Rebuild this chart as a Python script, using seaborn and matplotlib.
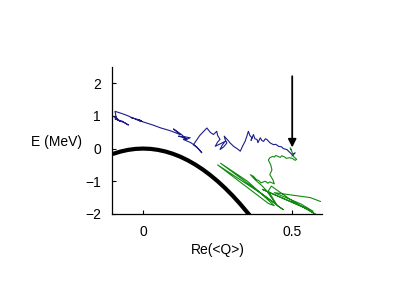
import numpy as np
import pandas as pd
import matplotlib
matplotlib.use('Agg')
import matplotlib.pyplot as plt
import seaborn as sns

# Curva de referencia (parábola negra)
curva_x = [-0.10, -0.075, -0.05, -0.025, 0.0, 0.025, 0.05, 0.075, 0.10, 0.125, 0.15, 0.175,
           0.20, 0.225, 0.25, 0.275, 0.30, 0.325, 0.35, 0.36]
curva_y = [-0.16, -0.09, -0.04, -0.01, 0.0, -0.01, -0.04, -0.09, -0.16, -0.25, -0.36, -0.49,
           -0.64, -0.81, -1.00, -1.21, -1.44, -1.69, -1.96, -2.07]

# Trayectoria azul
azul_x = [-0.100, -0.080, -0.070, -0.049, -0.060, -0.094, -0.085, -0.077, -0.090, -0.094,
          -0.070, -0.050, -0.033, -0.040, -0.010, -0.027, -0.004, -0.015, 0.030, 0.060,
          0.090, 0.096, 0.110, 0.124, 0.102, 0.115, 0.130, 0.147, 0.130, 0.119,
          0.140, 0.158, 0.150, 0.135, 0.160, 0.180, 0.197, 0.185, 0.169, 0.190,
          0.214, 0.225, 0.236, 0.247, 0.250, 0.258, 0.250, 0.242, 0.260, 0.275,
          0.265, 0.258, 0.270, 0.281, 0.275, 0.272, 0.285, 0.292, 0.300, 0.303,
          0.315, 0.326, 0.335, 0.342, 0.348, 0.353, 0.358, 0.365, 0.362, 0.370,
          0.375, 0.382, 0.385, 0.393, 0.398, 0.404, 0.410, 0.415, 0.425, 0.437,
          0.445, 0.454, 0.465, 0.470, 0.482, 0.490, 0.499, 0.510, 0.499]
azul_y = [0.99, 0.86, 0.84, 0.72, 0.78, 0.91, 0.88, 0.83, 0.95, 1.14,
          1.07, 1.00, 0.93, 0.95, 0.87, 0.90, 0.84, 0.86, 0.73, 0.63,
          0.55, 0.53, 0.48, 0.43, 0.60, 0.52, 0.42, 0.28, 0.35, 0.38,
          0.36, 0.33, 0.30, 0.28, 0.18, 0.05, -0.13, 0.00, 0.12, 0.40,
          0.63, 0.50, 0.43, 0.53, 0.40, 0.28, 0.20, 0.07, 0.15, 0.22,
          0.10, -0.03, 0.05, 0.17, 0.28, 0.38, 0.25, 0.17, 0.10, 0.07,
          0.00, -0.08, 0.10, 0.22, 0.38, 0.53, 0.40, 0.33, 0.25, 0.43,
          0.30, 0.28, 0.18, 0.33, 0.25, 0.22, 0.30, 0.28, 0.18, 0.12,
          0.13, 0.07, 0.05, 0.00, -0.03, -0.10, -0.18, -0.13, -0.23]

# Trayectoria verde
verde_x = [0.498, 0.493, 0.500, 0.505, 0.515, 0.510, 0.500, 0.490, 0.480, 0.475, 0.465, 0.460,
           0.455, 0.445, 0.440, 0.435, 0.425, 0.420, 0.428, 0.432, 0.425, 0.435, 0.440, 0.425,
           0.418, 0.410, 0.395, 0.388, 0.380, 0.370, 0.360, 0.375, 0.400, 0.415, 0.430, 0.445,
           0.430, 0.260, 0.350, 0.440, 0.420, 0.250, 0.400, 0.470, 0.450, 0.420, 0.430, 0.500,
           0.585, 0.550, 0.400, 0.570, 0.530, 0.440, 0.560, 0.595]
verde_y = [-0.05, 0.02, -0.12, -0.25, -0.33, -0.36, -0.30, -0.28, -0.30, -0.26, -0.22, -0.27,
           -0.25, -0.21, -0.26, -0.24, -0.28, -0.35, -0.50, -0.65, -0.80, -0.95, -1.08, -1.02,
           -1.06, -1.00, -1.05, -0.98, -0.95, -0.85, -0.80, -0.95, -1.15, -1.30, -1.50, -1.70,
           -1.60, -0.45, -1.00, -1.75, -1.68, -0.50, -1.40, -1.87, -1.75, -1.30, -1.15, -1.60,
           -2.05, -1.85, -1.25, -1.92, -1.70, -1.35, -1.50, -1.62]

# Flecha
flecha_x = 0.5
flecha_y0, flecha_y1 = 2.3, -0.05

sns.set_style('ticks')
plt.rcParams['font.family'] = ['Liberation Sans', 'DejaVu Sans']
plt.rcParams['text.color'] = 'black'
plt.rcParams['xtick.color'] = 'black'
plt.rcParams['ytick.color'] = 'black'

fig = plt.figure(figsize=(4.15, 2.91), dpi=100)
ax = fig.add_axes([0.27, 0.265, 0.506, 0.505])

df_azul = pd.DataFrame({'x': azul_x, 'y': azul_y})
df_verde = pd.DataFrame({'x': verde_x, 'y': verde_y})
df_curva = pd.DataFrame({'x': curva_x, 'y': curva_y})

sns.lineplot(data=df_azul, x='x', y='y', sort=False, estimator=None, color='#1c1c8c', lw=0.8, ax=ax)
sns.lineplot(data=df_verde, x='x', y='y', sort=False, estimator=None, color='#128a12', lw=0.8, ax=ax)
sns.lineplot(data=df_curva, x='x', y='y', sort=False, estimator=None, color='black', lw=3, ax=ax)

ax.annotate('', xy=(flecha_x, flecha_y1), xytext=(flecha_x, flecha_y0),
            arrowprops=dict(arrowstyle='-|>', color='black', lw=1.3, mutation_scale=12))

ax.set_xlim(-0.104, 0.6)
ax.set_ylim(-2, 2.5)
ax.set_xticks([0, 0.5])
ax.set_xticklabels(['0', '0.5'])
ax.set_yticks([-2, -1, 0, 1, 2])
ax.tick_params(direction='in', length=3, width=0.8, labelsize=10, pad=8)
ax.set_xlabel('')
ax.set_ylabel('')
sns.despine(ax=ax)
for s in ['left', 'bottom']:
    ax.spines[s].set_linewidth(0.9)
    ax.spines[s].set_color('black')

fig.text(0.135, 0.512, 'E (MeV)', ha='center', va='center', fontsize=10)
fig.text(0.525, 0.14, 'Re(<Q>)', ha='center', va='center', fontsize=10)

fig.savefig('out.png', dpi=100)
